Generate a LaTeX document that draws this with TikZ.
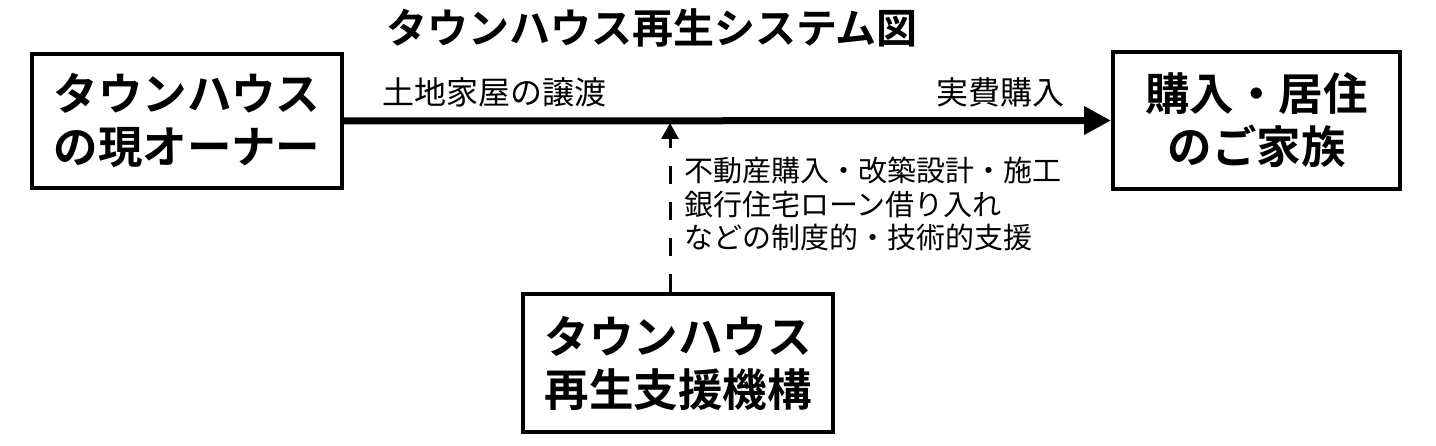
\documentclass[tikz,border=0pt]{standalone}
\usepackage{fontspec}
\setmainfont{Noto Sans CJK JP}[BoldFont={Noto Sans CJK JP Bold}]
\usetikzlibrary{arrows.meta}
\tikzset{
  box/.style={draw=black, line width=4, fill=white, inner sep=0pt, align=center,
    font=\bfseries\fontsize{44.5}{53}\selectfont},
  lbl/.style={inner sep=0pt, font=\fontsize{32}{37}\selectfont},
  mainline/.style={line width=7, -{Triangle[length=27,width=27]}},
  support/.style={line width=3, dash pattern=on 18 off 18, -{Triangle[length=16,width=17]}}
}
\begin{document}
\begin{tikzpicture}[x=1pt, y=-1pt]
\useasboundingbox (0,0) rectangle (1436,446);
\node[inner sep=0pt, font=\bfseries\fontsize{41}{48}\selectfont] (title) at (652,28) {タウンハウス再生システム図};
\node[box, minimum width=310, minimum height=134] (owner) at (187,121) {タウンハウス\\の現オーナー};
\node[box, minimum width=287, minimum height=137] (family) at (1256.5,120.5) {購入・居住\\のご家族};
\node[box, minimum width=310, minimum height=138] (org) at (678,363) {タウンハウス\\再生支援機構};
\draw[mainline] (owner.east) -- (family.west);
\coordinate (tip) at (670,123);
\draw[support] (tip |- org.north) -- (tip);
\node[lbl] (transfer) at (494,92) {土地家屋の譲渡};
\node[lbl] (purchase) at (1000,92) {実費購入};
\node[inner sep=0pt, anchor=west, align=left, font=\fontsize{29}{33.5}\selectfont] (help) at (684,204) {不動産購入・改築設計・施工\\銀行住宅ローン借り入れ\\などの制度的・技術的支援};
\end{tikzpicture}
\end{document}
